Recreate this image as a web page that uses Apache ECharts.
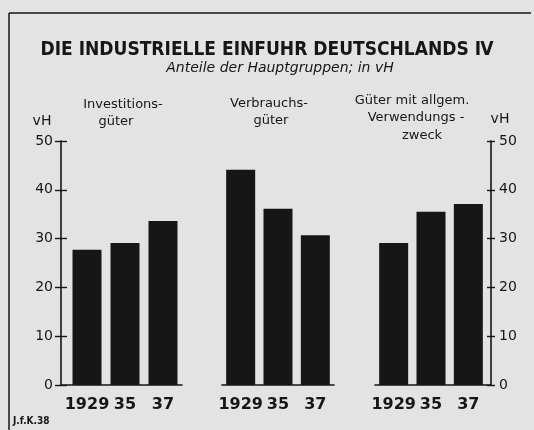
<!DOCTYPE html>
<html><head><meta charset="utf-8">
<script src="https://cdn.jsdelivr.net/npm/echarts@6/dist/echarts.min.js"></script>
<style>html,body{margin:0;padding:0;background:#e3e3e3}#c{width:534px;height:430px}</style>
</head><body><div id="c"></div>
<script>
const years = ['1929', '35', '37'];
const investitionsgueter = [27.7, 29.1, 33.6];
const verbrauchsgueter = [44.1, 36.1, 30.7];
const allgemVerwendung = [29.1, 35.5, 37.1];
const yMin = 0, yMax = 50, yStep = 10;

(function () {
const INK = '#161616';
const FONT = 'DejaVu Sans';
const gTop = 141, gH = 244;

const hiddenY = (gi) => ({gridIndex: gi, type: 'value', min: yMin, max: yMax, interval: yStep, show: false});
const catX = (gi, line) => ({
  gridIndex: gi, type: 'category', data: years,
  axisLine: {show: line, lineStyle: {color: INK, width: 1.6}},
  axisTick: {show: false},
  axisLabel: {show: true, interval: 0, hideOverlap: false, color: INK, fontFamily: FONT, fontWeight: 'bold', fontSize: 16, margin: 12}
});
const barSeries = (name, data, gi) => ({
  name, type: 'bar', data, xAxisIndex: gi, yAxisIndex: gi,
  barWidth: 29, itemStyle: {color: INK}
});

const option = {
  backgroundColor: '#e3e3e3',
  animation: false,
  grid: [
    {left: 61, top: gTop, width: 121, height: gH},
    {left: 68, top: gTop, width: 114, height: gH},
    {left: 222, top: gTop, width: 112, height: gH},
    {left: 375, top: gTop, width: 112, height: gH},
    {left: 375, top: gTop, width: 116, height: gH}
  ],
  xAxis: [
    {gridIndex: 0, type: 'category', data: [''], axisLine: {lineStyle: {color: INK, width: 1.6}}, axisTick: {show: false}, axisLabel: {show: false}},
    catX(1, false),
    catX(2, true),
    catX(3, false),
    {gridIndex: 4, type: 'category', data: [''], axisLine: {lineStyle: {color: INK, width: 1.6}}, axisTick: {show: false}, axisLabel: {show: false}}
  ],
  yAxis: [
    {gridIndex: 0, type: 'value', min: yMin, max: yMax, interval: yStep, position: 'left',
     axisLine: {show: true, lineStyle: {color: INK, width: 1.6}},
     axisTick: {show: true, length: 6, lineStyle: {color: INK, width: 1.4}},
     axisLabel: {color: INK, fontFamily: FONT, fontSize: 14, margin: 8},
     splitLine: {show: false}},
    hiddenY(1), hiddenY(2), hiddenY(3),
    {gridIndex: 4, type: 'value', min: yMin, max: yMax, interval: yStep, position: 'right',
     axisLine: {show: true, lineStyle: {color: INK, width: 1.6}},
     axisTick: {show: true, length: 4, lineStyle: {color: INK, width: 1.4}},
     axisLabel: {color: INK, fontFamily: FONT, fontSize: 14, margin: 8},
     splitLine: {show: false}},
    {gridIndex: 0, type: 'value', min: yMin, max: yMax, interval: yStep, position: 'left',
     axisLine: {show: false}, axisTick: {show: true, inside: true, length: 6, lineStyle: {color: INK, width: 1.4}},
     axisLabel: {show: false}, splitLine: {show: false}},
    {gridIndex: 4, type: 'value', min: yMin, max: yMax, interval: yStep, position: 'right',
     axisLine: {show: false}, axisTick: {show: true, inside: true, length: 4, lineStyle: {color: INK, width: 1.4}},
     axisLabel: {show: false}, splitLine: {show: false}}
  ],
  series: [
    barSeries('Investitionsgüter', investitionsgueter, 1),
    barSeries('Verbrauchsgüter', verbrauchsgueter, 2),
    barSeries('Güter mit allgem. Verwendungszweck', allgemVerwendung, 3)
  ],
  graphic: [
    {type: 'line', shape: {x1: 9, y1: 13, x2: 531, y2: 13}, style: {stroke: INK, lineWidth: 1.5}},
    {type: 'line', shape: {x1: 9, y1: 13, x2: 9, y2: 430}, style: {stroke: INK, lineWidth: 1.5}},
    {type: 'text', x: 267, y: 50, style: {text: 'DIE INDUSTRIELLE EINFUHR DEUTSCHLANDS Ⅳ', font: 'bold 19px "DejaVu Sans Condensed", "DejaVu Sans"', fill: INK, textAlign: 'center', textVerticalAlign: 'middle'}},
    {type: 'text', x: 280, y: 68, style: {text: 'Anteile der Hauptgruppen; in vH', font: 'italic 14px "DejaVu Sans"', fill: INK, textAlign: 'center', textVerticalAlign: 'middle'}},
    {type: 'text', x: 123, y: 105, style: {text: 'Investitions-', font: '13px "DejaVu Sans"', fill: INK, textAlign: 'center', textVerticalAlign: 'middle'}},
    {type: 'text', x: 116, y: 122, style: {text: 'güter', font: '13px "DejaVu Sans"', fill: INK, textAlign: 'center', textVerticalAlign: 'middle'}},
    {type: 'text', x: 269, y: 104, style: {text: 'Verbrauchs-', font: '13px "DejaVu Sans"', fill: INK, textAlign: 'center', textVerticalAlign: 'middle'}},
    {type: 'text', x: 271, y: 121, style: {text: 'güter', font: '13px "DejaVu Sans"', fill: INK, textAlign: 'center', textVerticalAlign: 'middle'}},
    {type: 'text', x: 412, y: 101, style: {text: 'Güter mit allgem.', font: '13px "DejaVu Sans"', fill: INK, textAlign: 'center', textVerticalAlign: 'middle'}},
    {type: 'text', x: 416, y: 118, style: {text: 'Verwendungs -', font: '13px "DejaVu Sans"', fill: INK, textAlign: 'center', textVerticalAlign: 'middle'}},
    {type: 'text', x: 422, y: 136, style: {text: 'zweck', font: '13px "DejaVu Sans"', fill: INK, textAlign: 'center', textVerticalAlign: 'middle'}},
    {type: 'text', x: 42, y: 121, style: {text: 'vH', font: '14px "DejaVu Sans"', fill: INK, textAlign: 'center', textVerticalAlign: 'middle'}},
    {type: 'text', x: 500, y: 119, style: {text: 'vH', font: '14px "DejaVu Sans"', fill: INK, textAlign: 'center', textVerticalAlign: 'middle'}},
    {type: 'text', x: 13, y: 421, style: {text: 'J.f.K.38', font: 'bold 10px "DejaVu Sans Condensed", "DejaVu Sans"', fill: INK, textAlign: 'left', textVerticalAlign: 'middle'}}
  ]
};
echarts.init(document.getElementById('c'), null, {renderer: 'canvas'}).setOption(option);
})();
</script>
</body></html>
